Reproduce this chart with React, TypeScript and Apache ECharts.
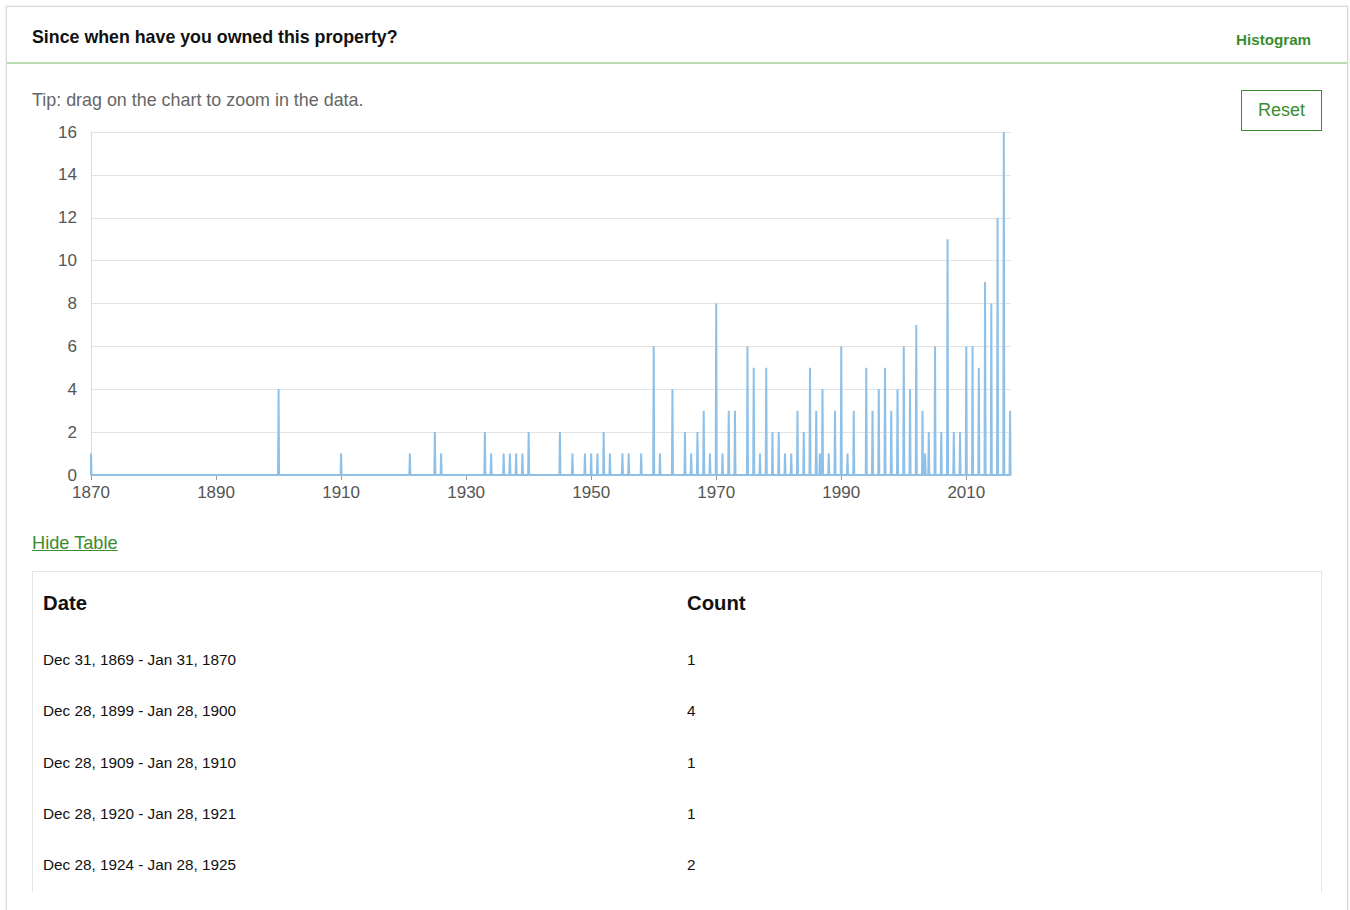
import React, { useEffect, useRef } from "react";
import * as echarts from "echarts";

// Spike data (year, month, count)
const spikeYears = [1870,1900,1910,1921,1925,1926,1933,1934,1936,1937,1938,1939,1940,1945,1947,1949,1950,1951,1952,1953,1955,1956,1958,1960,1961,1963,1965,1966,1967,1968,1969,1970,1971,1972,1973,1975,1976,1977,1978,1979,1980,1981,1982,1983,1984,1985,1986,1986,1987,1988,1989,1990,1991,1992,1994,1995,1996,1997,1998,1999,2000,2001,2002,2003,2003,2004,2005,2006,2007,2008,2009,2010,2011,2012,2013,2014,2015,2016,2017];
const spikeMonths = spikeYears.map((y, i) => (i === 47 ? 8 : i === 64 ? 6 : 1));
const spikeCounts = [1,4,1,1,2,1,2,1,1,1,1,1,2,2,1,1,1,1,2,1,1,1,1,6,1,4,2,1,2,3,1,8,1,3,3,6,5,1,5,2,2,1,1,3,2,5,3,1,4,1,3,6,1,3,5,3,4,5,3,4,6,4,7,3,1,2,6,2,11,2,2,6,6,5,9,8,12,16,3];

const baseYear = 1870;
const xTickYears = [1870, 1890, 1910, 1930, 1950, 1970, 1990, 2010];
const yTicks = [0, 2, 4, 6, 8, 10, 12, 14, 16];

const tableDates = [
  "Dec 31, 1869 - Jan 31, 1870",
  "Dec 28, 1899 - Jan 28, 1900",
  "Dec 28, 1909 - Jan 28, 1910",
  "Dec 28, 1920 - Jan 28, 1921",
  "Dec 28, 1924 - Jan 28, 1925",
];
const tableCounts = [1, 4, 1, 1, 2];

const GREEN = "#3a8c2f";
const FONT = "Arial, 'Liberation Sans', Helvetica, sans-serif";

function buildLine(): number[][] {
  const pts: number[][] = [];
  const step = 1 / 12;
  spikeYears.forEach((y, i) => {
    const t = y - baseYear + (spikeMonths[i] - 1) / 12;
    pts.push([t - step, 0]);
    pts.push([t, spikeCounts[i]]);
    pts.push([t + step, 0]);
  });
  return pts;
}

function Chart() {
  const ref = useRef<HTMLDivElement>(null);
  useEffect(() => {
    if (!ref.current) return;
    const chart = echarts.init(ref.current, undefined, { renderer: "svg" });
    const tickVals = xTickYears.map((y) => y - baseYear);
    chart.setOption({
      animation: false,
      grid: { left: 71, top: 17, width: 920, height: 343 },
      xAxis: {
        type: "value",
        min: 0,
        max: 147.15,
        interval: 20,
        axisLine: { show: true, lineStyle: { color: "#cccccc" } },
        axisTick: { show: true, length: 5, lineStyle: { color: "#999" }, customValues: tickVals },
        splitLine: { show: false },
        axisLabel: {
          color: "#555",
          fontSize: 17,
          fontFamily: FONT,
          margin: 9,
          customValues: tickVals,
          formatter: (v: number) => {
            const yr = Math.round(v + baseYear);
            return xTickYears.includes(yr) ? String(yr) : "";
          },
        },
      },
      yAxis: {
        type: "value",
        min: yTicks[0],
        max: yTicks[yTicks.length - 1],
        interval: 2,
        axisLine: { show: true, lineStyle: { color: "#dddddd" } },
        axisTick: { show: false },
        splitLine: { show: true, lineStyle: { color: "#e3e3e3", width: 1 } },
        axisLabel: { color: "#555", fontSize: 17, fontFamily: FONT, margin: 14 },
      },
      series: [
        {
          type: "line",
          data: buildLine(),
          showSymbol: false,
          symbol: "none",
          lineStyle: { color: "#8fc0e8", width: 2 },
          clip: true,
        },
      ],
    });
    return () => chart.dispose();
  }, []);
  return (
    <div
      ref={ref}
      style={{ position: "absolute", left: 20, top: 115, width: 1010, height: 400 }}
    />
  );
}

const abs = (s: React.CSSProperties): React.CSSProperties => ({ position: "absolute", whiteSpace: "nowrap", ...s });

export default function App() {
  const rowCenters = [660, 711, 763, 814, 865];
  return (
    <div style={{ position: "absolute", left: 0, top: 0, width: 1350, height: 910, overflow: "hidden", fontFamily: FONT, background: "#fff" }}>
      <div style={abs({ left: 6, top: 6, width: 1340, height: 1000, border: "1px solid #d6d6d6", boxShadow: "0 0 3px rgba(0,0,0,0.12)" })} />
      <div style={abs({ left: 7, top: 62, width: 1340, height: 2, background: "#b9dcb0" })} />
      <div style={abs({ left: 32, top: 28, fontSize: 17.8, lineHeight: "18px", fontWeight: "bold", color: "#111" })}>
        Since when have you owned this property?
      </div>
      <div style={abs({ left: 1236, top: 31, fontSize: 15.2, lineHeight: "18px", fontWeight: "bold", color: GREEN })}>
        Histogram
      </div>
      <div style={abs({ left: 32, top: 91, fontSize: 17.9, lineHeight: "18px", color: "#666" })}>
        Tip: drag on the chart to zoom in the data.
      </div>
      <div style={abs({ left: 1241, top: 90, width: 79, height: 39, border: `1px solid ${GREEN}`, color: GREEN, fontSize: 18, lineHeight: "39px", textAlign: "center" })}>
        Reset
      </div>
      <Chart />
      <div style={abs({ left: 32, top: 533, fontSize: 18.2, lineHeight: "20px", color: GREEN, textDecoration: "underline" })}>
        Hide Table
      </div>
      <div style={abs({ left: 32, top: 571, width: 1288, height: 320, border: "1px solid #e6e6e6", borderBottom: "none" })} />
      <div style={abs({ left: 43, top: 592, fontSize: 20.3, lineHeight: "22px", fontWeight: "bold", color: "#111" })}>Date</div>
      <div style={abs({ left: 687, top: 592, fontSize: 20.3, lineHeight: "22px", fontWeight: "bold", color: "#111" })}>Count</div>
      {tableDates.map((d, i) => (
        <React.Fragment key={d}>
          <div style={abs({ left: 43, top: rowCenters[i] - 9, fontSize: 15.3, lineHeight: "18px", color: "#111" })}>{d}</div>
          <div style={abs({ left: 687, top: rowCenters[i] - 9, fontSize: 15.3, lineHeight: "18px", color: "#111" })}>{tableCounts[i]}</div>
        </React.Fragment>
      ))}
    </div>
  );
}
